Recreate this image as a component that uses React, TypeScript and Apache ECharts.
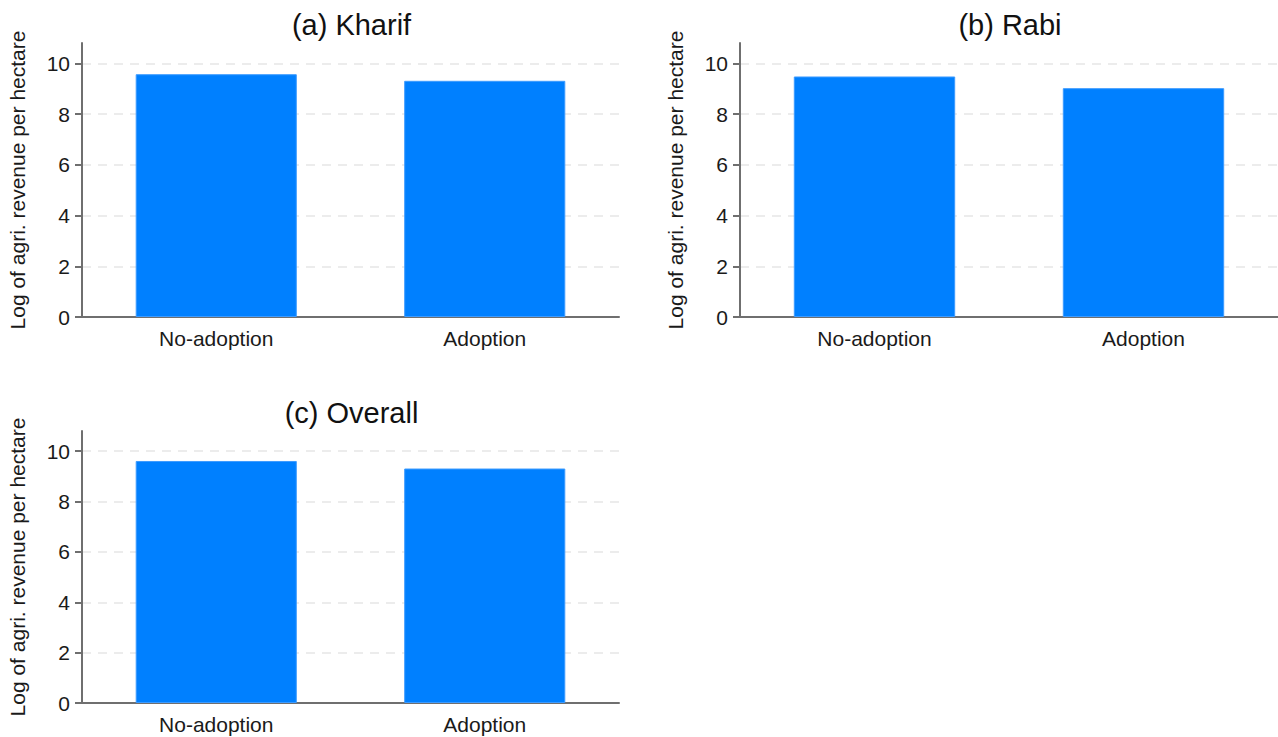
import React, { useEffect, useRef } from 'react';
import * as echarts from 'echarts';

const categories = ['No-adoption', 'Adoption'];
const kharifValues = [9.57, 9.31];
const rabiValues = [9.48, 9.02];
const overallValues = [9.61, 9.31];
const yTicks = [0, 2, 4, 6, 8, 10];
const panelTitles = ['(a) Kharif', '(b) Rabi', '(c) Overall'];
const yAxisTitle = 'Log of agri. revenue per hectare';

const FONT = '"Liberation Sans", Arial, sans-serif';
const AXIS_COLOR = '#6f6f6f';
const TEXT_COLOR = '#1a1a1a';
const BAR_COLOR = '#0080ff';

export default function App() {
  const ref = useRef<HTMLDivElement>(null);

  useEffect(() => {
    if (!ref.current) return;
    const chart = echarts.init(ref.current, undefined, { renderer: 'svg' });
    const grids = [
      { left: 82, top: 43, width: 537, height: 274 },
      { left: 740, top: 43, width: 538, height: 274 },
      { left: 82, top: 431, width: 537, height: 272 },
    ];
    const seriesValues = [kharifValues, rabiValues, overallValues];

    const option: any = {
      animation: false,
      backgroundColor: '#ffffff',
      textStyle: { fontFamily: FONT },
      grid: grids.map((g) => ({ ...g, containLabel: false })),
      xAxis: grids.map((_, i) => ({
        type: 'category',
        gridIndex: i,
        data: categories,
        axisLine: { show: true, lineStyle: { color: AXIS_COLOR, width: 2 } },
        axisTick: { show: false },
        axisLabel: { fontSize: 21, color: TEXT_COLOR, margin: 11, fontFamily: FONT },
        splitLine: { show: false },
      })),
      yAxis: grids.map((_, i) => ({
        type: 'value',
        gridIndex: i,
        min: 0,
        max: 10.8,
        interval: 2,
        name: yAxisTitle,
        nameLocation: 'middle',
        nameGap: 54,
        nameTextStyle: { fontSize: 21, color: TEXT_COLOR, fontFamily: FONT },
        axisLine: { show: true, lineStyle: { color: AXIS_COLOR, width: 2 } },
        axisTick: {
          show: true,
          length: 7,
          customValues: yTicks,
          lineStyle: { color: AXIS_COLOR, width: 2 },
        },
        axisLabel: {
          fontSize: 21,
          color: TEXT_COLOR,
          margin: 12,
          customValues: yTicks,
          fontFamily: FONT,
        },
        splitLine: {
          show: true,
          showMinLine: false,
          showMaxLine: true,
          lineStyle: { color: '#e6e6e6', width: 1.5, type: [9, 7] },
        },
      })),
      series: seriesValues.map((vals, i) => ({
        type: 'bar',
        xAxisIndex: i,
        yAxisIndex: i,
        data: vals,
        barWidth: '60%',
        itemStyle: { color: BAR_COLOR, borderColor: '#3d9bff', borderWidth: 1 },
        z: 3,
      })),
      graphic: grids.map((g, i) => ({
        type: 'text',
        x: g.left + g.width / 2 + 1,
        y: g.top - 18,
        style: {
          text: panelTitles[i],
          align: 'center',
          verticalAlign: 'middle',
          fontSize: 29,
          fontFamily: FONT,
          fill: '#111111',
        },
      })),
    };
    chart.setOption(option);
    return () => {
      chart.dispose();
    };
  }, []);

  return (
    <div
      ref={ref}
      style={{ position: 'fixed', left: 0, top: 0, width: 1278, height: 737, background: '#fff' }}
    />
  );
}
